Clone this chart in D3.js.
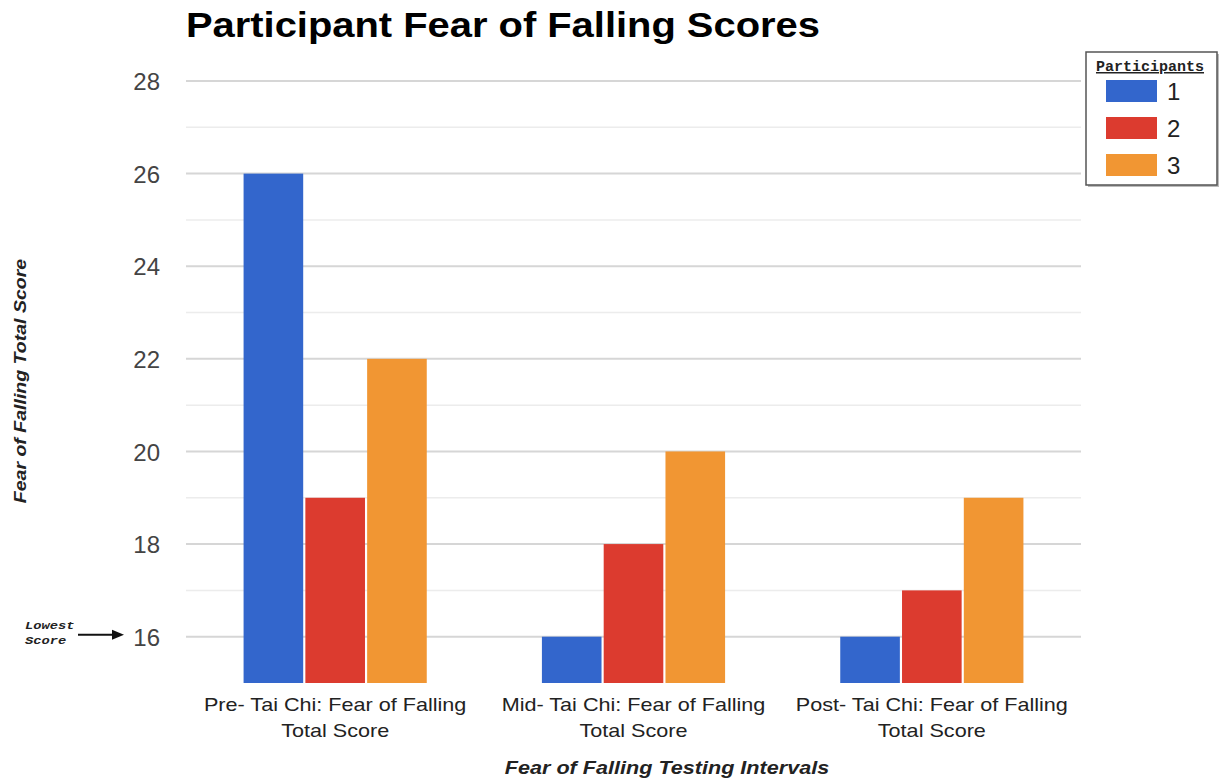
<!DOCTYPE html>
<html lang="en">
<head>
    <meta charset="UTF-8">
    <title>Participant Fear of Falling Scores</title>
    <script src="https://cdn.jsdelivr.net/npm/d3@7"></script>
    <style>
        body { margin: 0; background: #fff; }
    </style>
</head>
<body>
<svg id="chart" width="1219" height="782"></svg>
<script>
    // data
    const intervals = ['Pre- Tai Chi: Fear of Falling|Total Score',
        'Mid- Tai Chi: Fear of Falling|Total Score',
        'Post- Tai Chi: Fear of Falling|Total Score'];
    const participants = ['1', '2', '3'];
    const participant1 = [26, 16, 16];
    const participant2 = [19, 18, 17];
    const participant3 = [22, 20, 19];
    const majorTicks = [16, 18, 20, 22, 24, 26, 28];
    const minorTicks = [17, 19, 21, 23, 25, 27];
    const colors = ['#3366cc', '#dc3b2f', '#f19633'];

    const series = [participant1, participant2, participant3];

    const SANS = '"Liberation Sans", Arial, sans-serif';
    const MONO = '"Liberation Mono", "DejaVu Sans Mono", monospace';

    const svg = d3.select('#chart').style('font-family', SANS);
    const plotL = 186, plotR = 1081, plotT = 81, plotB = 683;

    const x = d3.scaleBand().domain(intervals).range([plotL, plotR])
        .paddingInner(0.386).paddingOuter(0.193);
    const xs = d3.scaleBand().domain(participants).range([0, x.bandwidth()]).paddingInner(0.035);
    const y = d3.scaleLinear().domain([15, 28]).range([plotB, plotT]);

    // grid lines
    svg.append('g').selectAll('line').data(minorTicks).join('line')
        .attr('x1', plotL).attr('x2', plotR)
        .attr('y1', d => y(d)).attr('y2', d => y(d))
        .attr('stroke', '#ececec').attr('stroke-width', 1.5);
    svg.append('g').selectAll('line').data(majorTicks).join('line')
        .attr('x1', plotL).attr('x2', plotR)
        .attr('y1', d => y(d)).attr('y2', d => y(d))
        .attr('stroke', '#d6d6d6').attr('stroke-width', 2);

    // y axis labels
    const yAxis = svg.append('g').attr('transform', `translate(${plotL - 26},0)`)
        .call(d3.axisLeft(y).tickValues(majorTicks).tickSize(0).tickPadding(0));
    yAxis.select('.domain').remove();
    yAxis.selectAll('text').attr('font-size', 24).attr('fill', '#444')
        .attr('font-family', SANS).attr('dy', '0.36em');

    // bars
    const groups = svg.append('g').selectAll('g').data(intervals).join('g')
        .attr('transform', d => `translate(${x(d)},0)`);
    groups.selectAll('rect')
        .data((d, i) => participants.map((p, j) => ({p: p, v: series[j][i]})))
        .join('rect')
        .attr('x', d => xs(d.p))
        .attr('width', xs.bandwidth())
        .attr('y', d => y(d.v))
        .attr('height', d => y(15) - y(d.v))
        .attr('fill', (d, j) => colors[j]);

    // x axis labels (text in the picture is a bit wide, so stretch it)
    const xAxis = svg.append('g').attr('transform', `translate(0,${plotB})`)
        .call(d3.axisBottom(x).tickSize(0).tickPadding(0));
    xAxis.select('.domain').remove();
    xAxis.selectAll('text').each(function (d) {
        const t = d3.select(this).text(null).attr('font-size', 18).attr('fill', '#222')
            .attr('font-family', SANS).attr('dy', null).attr('y', 0)
            .attr('transform', 'scale(1.2,1)');
        d.split('|').forEach((line, i) => {
            t.append('tspan').attr('x', 0).attr('y', 28 + i * 26).text(line);
        });
    });

    // title
    svg.append('text').attr('transform', 'translate(186,37) scale(1.14,1)')
        .attr('font-size', 35).attr('font-weight', 'bold').attr('fill', '#000')
        .text('Participant Fear of Falling Scores');

    // axis titles
    svg.append('text').attr('transform', 'translate(667,774) scale(1.2,1)').attr('text-anchor', 'middle')
        .attr('font-size', 18).attr('font-weight', 'bold').attr('font-style', 'italic').attr('fill', '#222')
        .text('Fear of Falling Testing Intervals');
    svg.append('text').attr('transform', 'translate(26,381) rotate(-90) scale(1.15,1)').attr('text-anchor', 'middle')
        .attr('font-size', 17).attr('font-weight', 'bold').attr('font-style', 'italic').attr('fill', '#222')
        .text('Fear of Falling Total Score');

    // lowest score note
    const note = svg.append('g');
    [['Lowest', 629], ['Score', 644]].forEach(([s, yy]) => {
        note.append('text').attr('transform', `translate(25,${yy}) scale(1.25,1)`)
            .style('font-family', MONO)
            .attr('font-size', 11).attr('font-weight', 'bold').attr('font-style', 'italic').attr('fill', '#222')
            .text(s);
    });
    note.append('line').attr('x1', 78).attr('x2', 114).attr('y1', y(16) - 2).attr('y2', y(16) - 2)
        .attr('stroke', '#111').attr('stroke-width', 2);
    note.append('path')
        .attr('d', `M112,${y(16) - 7} L124,${y(16) - 2} L112,${y(16) + 3} Z`)
        .attr('fill', '#111');

    // legend
    const legend = svg.append('g').attr('transform', 'translate(1086,52)');
    legend.append('rect').attr('x', 2).attr('y', 2).attr('width', 131).attr('height', 133)
        .attr('fill', '#bbb');
    legend.append('rect').attr('width', 131).attr('height', 133)
        .attr('fill', '#fff').attr('stroke', '#555').attr('stroke-width', 1.5);
    legend.append('text').attr('x', 64).attr('y', 19).attr('text-anchor', 'middle')
        .style('font-family', MONO)
        .attr('font-size', 15).attr('font-weight', 'bold').attr('fill', '#222')
        .attr('text-decoration', 'underline')
        .text('Participants');
    const item = legend.selectAll('g.item').data(participants).join('g').attr('class', 'item')
        .attr('transform', (d, i) => `translate(20,${28 + i * 37})`);
    item.append('rect').attr('width', 51).attr('height', 22).attr('fill', (d, i) => colors[i]);
    item.append('text').attr('x', 61).attr('y', 20).attr('font-size', 24).attr('fill', '#222')
        .text(d => d);
</script>
</body>
</html>
